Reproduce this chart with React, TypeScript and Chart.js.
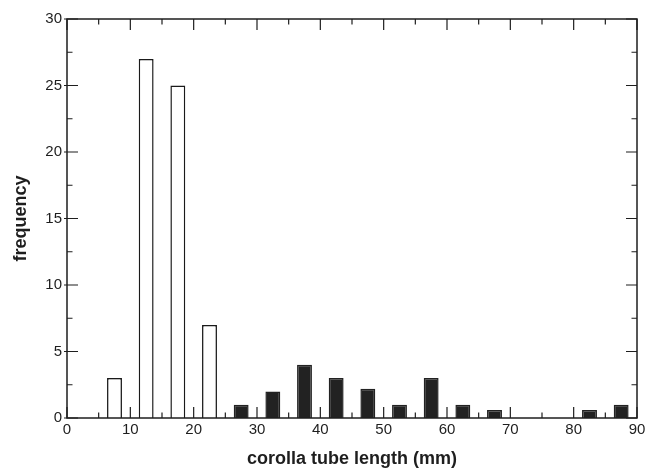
import React, { useEffect, useRef } from "react";
import { Chart, registerables } from "chart.js";

Chart.register(...registerables);

// bin centres (mm) and frequencies
const binCenters = [7.5, 12.5, 17.5, 22.5, 27.5, 32.5, 37.5, 42.5, 47.5, 52.5, 57.5, 62.5, 67.5, 82.5, 87.5];
const frequencies = [3, 27, 25, 7, 1, 2, 4, 3, 2.2, 1, 3, 1, 0.6, 0.6, 1];
const groups = ["open", "open", "open", "open", "filled", "filled", "filled", "filled", "filled", "filled", "filled", "filled", "filled", "filled", "filled"];

const xMin = 0;
const xMax = 90;
const xMajorStep = 10;
const xMinorStep = 5;
const yMin = 0;
const yMax = 30;
const yMajorStep = 5;
const yMinorStep = 2.5;

const xTitle = "corolla tube length (mm)";
const yTitle = "frequency";

const INK = "#1e1e1e";
const FONT = "'Liberation Sans', Arial, Helvetica, sans-serif";

const framePlugin = {
  id: "frameTicks",
  afterDraw(chart: any) {
    const { ctx, chartArea, scales } = chart;
    const { left, right, top, bottom } = chartArea;
    const xs = scales.x;
    const ys = scales.y;
    ctx.save();
    ctx.strokeStyle = INK;
    ctx.lineWidth = 1.5;
    ctx.strokeRect(left, top, right - left, bottom - top);
    ctx.lineWidth = 1.2;
    ctx.beginPath();
    for (let v = xMin; v <= xMax + 1e-9; v += xMinorStep) {
      const px = xs.getPixelForValue(v);
      const major = Math.abs(v / xMajorStep - Math.round(v / xMajorStep)) < 1e-6;
      const len = major ? 11 : 5.5;
      ctx.moveTo(px, bottom);
      ctx.lineTo(px, bottom - len);
      ctx.moveTo(px, top);
      ctx.lineTo(px, top + len);
    }
    for (let v = yMin; v <= yMax + 1e-9; v += yMinorStep) {
      const py = ys.getPixelForValue(v);
      const major = Math.abs(v / yMajorStep - Math.round(v / yMajorStep)) < 1e-6;
      const len = major ? 11 : 5.5;
      ctx.moveTo(major ? left - 3 : left, py);
      ctx.lineTo(left + len, py);
      ctx.moveTo(right, py);
      ctx.lineTo(right - len, py);
    }
    ctx.stroke();
    ctx.restore();
  },
};

export default function App() {
  const canvasRef = useRef<HTMLCanvasElement | null>(null);

  useEffect(() => {
    if (!canvasRef.current) return;
    const chart = new Chart(canvasRef.current, {
      type: "bar",
      data: {
        datasets: [
          {
            label: "frequency",
            data: binCenters.map((x, i) => ({ x, y: frequencies[i] })),
            backgroundColor: groups.map((g) => (g === "open" ? "#ffffff" : "#222222")),
            borderColor: groups.map((g) => (g === "open" ? "#1a1a1a" : "#222222")),
            borderWidth: 1.5,
            borderSkipped: "bottom",
            barPercentage: 0.47,
            categoryPercentage: 1,
          },
        ],
      },
      options: {
        responsive: false,
        animation: false,
        events: [],
        layout: { padding: { left: 0, top: 19, right: 13, bottom: 0 } },
        plugins: {
          legend: { display: false },
          tooltip: { enabled: false },
        },
        scales: {
          x: {
            type: "linear",
            min: xMin,
            max: xMax,
            offset: false,
            grid: { display: false, drawTicks: false },
            border: { display: false },
            ticks: {
              stepSize: xMajorStep,
              padding: 3,
              color: INK,
              font: { family: FONT, size: 15 },
              maxRotation: 0,
            },
            title: {
              display: true,
              text: xTitle,
              color: INK,
              font: { family: FONT, size: 18, weight: "bold" },
              padding: { top: 0, bottom: 0 },
            },
            afterFit: (s: any) => {
              s.height = 52;
            },
          },
          y: {
            min: yMin,
            max: yMax,
            grid: { display: false, drawTicks: false },
            border: { display: false },
            ticks: {
              stepSize: yMajorStep,
              padding: 5,
              color: INK,
              font: { family: FONT, size: 15 },
            },
            title: {
              display: true,
              text: yTitle,
              color: INK,
              font: { family: FONT, size: 18, weight: "bold" },
              padding: { top: 10, bottom: 0 },
            },
            afterFit: (s: any) => {
              s.width = 67;
            },
          },
        },
      },
      plugins: [framePlugin],
    });
    return () => chart.destroy();
  }, []);

  return (
    <div style={{ position: "absolute", left: 0, top: 0, width: 650, height: 470, background: "#fff" }}>
      <canvas ref={canvasRef} width={650} height={470} />
    </div>
  );
}
